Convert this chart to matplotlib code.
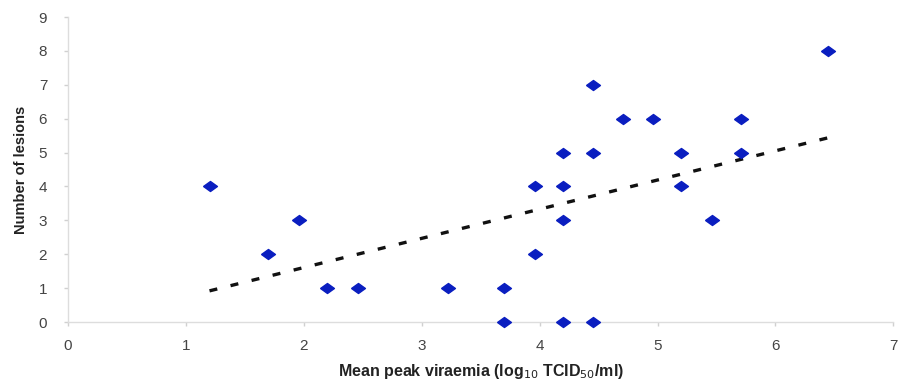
import matplotlib

matplotlib.use("Agg")
import matplotlib.pyplot as plt

plt.rcParams["font.family"] = ["Liberation Sans", "DejaVu Sans"]

# mean peak viraemia (log10 TCID50/ml) vs number of lesions per animal
viraemia = [1.2, 1.7, 1.96, 2.2, 2.46, 3.22, 3.7, 3.7, 3.96, 3.96,
            4.2, 4.2, 4.2, 4.2, 4.45, 4.45, 4.45, 4.71, 4.96,
            5.2, 5.2, 5.46, 5.71, 5.71, 6.45]
lesions = [4, 2, 3, 1, 1, 1, 1, 0, 4, 2,
           5, 4, 3, 0, 7, 5, 0, 6, 6,
           5, 4, 3, 6, 5, 8]

# linear trend line end points
trend_x = [1.2, 6.45]
trend_y = [0.92, 5.44]

x_ticks = [0, 1, 2, 3, 4, 5, 6, 7]
y_ticks = [0, 1, 2, 3, 4, 5, 6, 7, 8, 9]

fig = plt.figure(figsize=(9.01, 3.88), dpi=100)
ax = fig.add_axes([0.0755, 0.170, 0.916, 0.786])

diamond = [(-1, 0), (0, 0.72), (1, 0), (0, -0.72), (-1, 0)]
ax.plot(trend_x, trend_y, ls=(0, (2.4, 4.1)), lw=2.4, color="#111111",
        zorder=2, clip_on=False)
ax.plot(viraemia, lesions, ls="none", marker=diamond, ms=10,
        color="#0a1ec0", mec="#0a1ec0", zorder=3, clip_on=False)

ax.set_xlim(0, 7)
ax.set_ylim(0, 9)
ax.set_xticks(x_ticks)
ax.set_yticks(y_ticks)

for side in ("top", "right"):
    ax.spines[side].set_visible(False)
for side in ("left", "bottom"):
    ax.spines[side].set_color("#dddddd")
    ax.spines[side].set_linewidth(1.0)

ax.tick_params(axis="both", colors="#d0d0d0", labelcolor="#444444",
               labelsize=11, length=3, width=1)
ax.tick_params(axis="x", pad=9)
ax.tick_params(axis="y", pad=12)

ax.set_xlabel("Mean peak viraemia (log$_{10}$ TCID$_{50}$/ml)",
              fontsize=11.5, fontweight="bold", color="#222222", labelpad=7)
ax.set_ylabel("Number of lesions", fontsize=10.5, fontweight="bold",
              color="#222222", labelpad=8)

fig.savefig("out.png", dpi=100)
